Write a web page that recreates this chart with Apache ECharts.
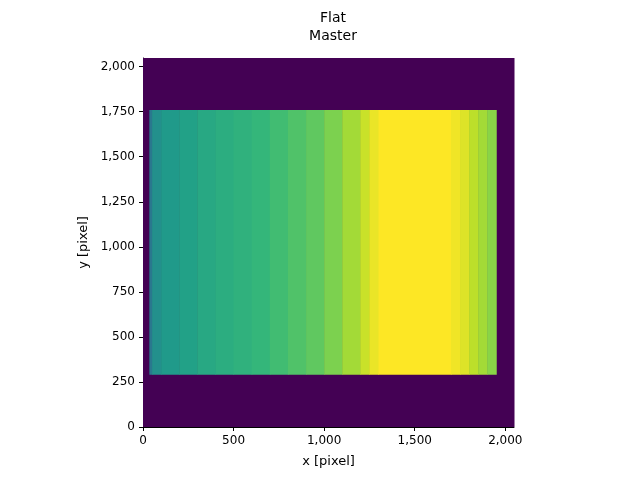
<!DOCTYPE html>
<html>
<head>
<meta charset="utf-8">
<script src="https://cdn.jsdelivr.net/npm/echarts@6/dist/echarts.min.js"></script>
<style>html,body{margin:0;background:#fff}#main{width:640px;height:480px}</style>
</head>
<body>
<div id="main"></div>
<script>
// image size and illuminated region (pixels)
var imgSize = 2048;
var regionY = [290, 1760];
// column strip edges along x and normalised flat level in each strip
var stripEdges = [35, 50, 100, 200, 300, 400, 500, 600, 700, 800, 900, 1000, 1100, 1200, 1250, 1300, 1700, 1750, 1800, 1850, 1900, 1950];
var stripLevels = [0.40, 0.50, 0.54, 0.57, 0.60, 0.62, 0.64, 0.66, 0.69, 0.72, 0.75, 0.80, 0.86, 0.92, 0.97, 1.0, 0.98, 0.95, 0.90, 0.86, 0.82];
var xTicks = [0, 500, 1000, 1500, 2000];
var yTicks = [0, 250, 500, 750, 1000, 1250, 1500, 1750, 2000];

var viridis = ['#440154', '#482878', '#3e4989', '#31688e', '#26828e', '#1f9e89', '#35b779', '#6ece58', '#b5de2b', '#fde725'];

var rects = [[0, imgSize, 0, imgSize, 0]];
for (var i = 0; i < stripLevels.length; i++) {
  rects.push([stripEdges[i], stripEdges[i + 1], regionY[0], regionY[1], stripLevels[i]]);
}

var myChart = echarts.init(document.getElementById('main'));
var axisCommon = {
  type: 'value', min: 0, max: imgSize, interval: 250,
  nameLocation: 'middle',
  nameTextStyle: {color: '#000', fontSize: 13},
  axisLine: {show: true, lineStyle: {color: '#000'}},
  axisTick: {show: true, length: 4, lineStyle: {color: '#000'}},
  splitLine: {show: false}
};
var option = {
  title: {
    text: 'Flat\nMaster', left: 328, textAlign: 'center', top: 4,
    textStyle: {fontWeight: 'normal', fontSize: 14, lineHeight: 18, color: '#000', fontFamily: 'DejaVu Sans'}
  },
  textStyle: {fontFamily: 'DejaVu Sans'},
  grid: {left: 143, right: 126, top: 58, bottom: 53},
  visualMap: {show: false, min: 0, max: 1, dimension: 4, inRange: {color: viridis}},
  xAxis: Object.assign({}, axisCommon, {
    name: 'x [pixel]', nameGap: 28, interval: 500,
    axisLabel: {color: '#000', fontSize: 12}
  }),
  yAxis: Object.assign({}, axisCommon, {
    name: 'y [pixel]', nameGap: 46,
    axisLabel: {color: '#000', fontSize: 12}
  }),
  series: [{
    type: 'custom',
    data: rects,
    renderItem: function (params, api) {
      var p0 = api.coord([api.value(0), api.value(3)]);
      var p1 = api.coord([api.value(1), api.value(2)]);
      return {
        type: 'rect',
        shape: {x: p0[0], y: p0[1], width: p1[0] - p0[0] + 0.5, height: p1[1] - p0[1]},
        style: {fill: api.visual('color')}
      };
    },
    encode: {x: [0, 1], y: [2, 3]}
  }]
};
myChart.setOption(option);
</script>
</body>
</html>
